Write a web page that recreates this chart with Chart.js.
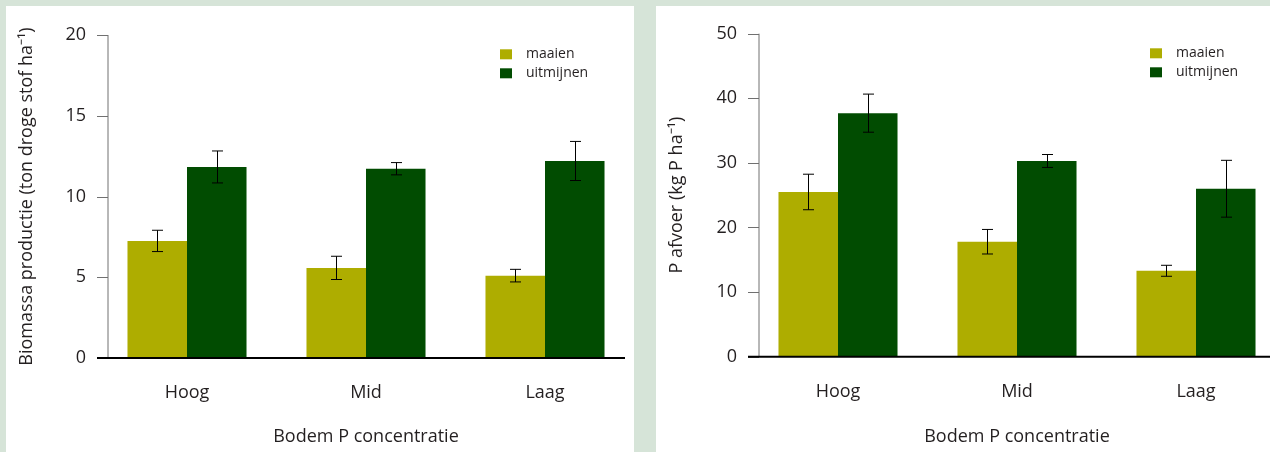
<!DOCTYPE html>
<html><head><meta charset="utf-8">
<script src="https://cdn.jsdelivr.net/npm/chart.js@4/dist/chart.umd.min.js"></script>
<style>
html,body{margin:0;padding:0;background:#d6e4d8;width:1270px;height:452px;overflow:hidden}
.panel{position:absolute;top:6px;height:446px;background:#fff;overflow:hidden}
canvas{position:absolute;left:0;top:0}
</style></head><body>
<div class="panel" style="left:6px;width:628px"><canvas id="c1" width="640" height="446"></canvas></div>
<div class="panel" style="left:656px;width:614px"><canvas id="c2" width="640" height="446"></canvas></div>
<script>
const categories = ['Hoog', 'Mid', 'Laag'];
const seriesNames = ['maaien', 'uitmijnen'];
const seriesColors = ['#aead00', '#014c01'];

const biomassaMaaien = [7.25, 5.58, 5.10];
const biomassaMaaienErr = [0.66, 0.72, 0.39];
const biomassaUitmijnen = [11.83, 11.72, 12.20];
const biomassaUitmijnenErr = [0.99, 0.38, 1.21];
const biomassaTicks = [0, 5, 10, 15, 20];

const pAfvoerMaaien = [25.5, 17.8, 13.3];
const pAfvoerMaaienErr = [2.75, 1.9, 0.85];
const pAfvoerUitmijnen = [37.7, 30.3, 26.0];
const pAfvoerUitmijnenErr = [2.95, 1.0, 4.4];
const pAfvoerTicks = [0, 10, 20, 30, 40, 50];

const xTitle = 'Bodem P concentratie';
const yTitleBiomassa = 'Biomassa productie (ton droge stof ha\u207B\u00B9)';
const yTitlePAfvoer = 'P afvoer (kg P ha\u207B\u00B9)';

Chart.defaults.font.family = "'Open Sans', sans-serif";
Chart.defaults.color = '#231f20';

const rPlugin = {
  id: 'rStyle',
  beforeDatasetsDraw(chart, args, o) {
    const ctx = chart.ctx, ca = chart.chartArea, y = chart.scales.y;
    const ax = ca.left + 10.5;
    ctx.save();
    ctx.strokeStyle = '#707070';
    ctx.lineWidth = 1;
    ctx.beginPath();
    ctx.moveTo(ax, y.getPixelForValue(y.max));
    ctx.lineTo(ax, y.getPixelForValue(0));
    y.ticks.forEach(t => {
      const py = Math.round(y.getPixelForValue(t.value)) + 0.5;
      ctx.moveTo(ca.left - 0.5, py);
      ctx.lineTo(ax, py);
    });
    ctx.stroke();
    ctx.restore();
  },
  afterDatasetsDraw(chart, args, o) {
    const ctx = chart.ctx, ca = chart.chartArea, y = chart.scales.y;
    ctx.save();
    // error bars
    ctx.strokeStyle = '#000';
    ctx.lineWidth = 1;
    chart.data.datasets.forEach((ds, i) => {
      const meta = chart.getDatasetMeta(i);
      meta.data.forEach((el, j) => {
        const v = ds.data[j], e = ds.errors[j];
        const x = Math.round(el.x) + 0.5;
        const yt = y.getPixelForValue(v + e), yb = y.getPixelForValue(v - e);
        ctx.beginPath();
        ctx.moveTo(x, yt); ctx.lineTo(x, yb);
        ctx.moveTo(x - 5.5, yt); ctx.lineTo(x + 5.5, yt);
        ctx.moveTo(x - 5.5, yb); ctx.lineTo(x + 5.5, yb);
        ctx.stroke();
      });
    });
    // x axis line
    const y0 = y.getPixelForValue(0);
    ctx.strokeStyle = '#000';
    ctx.lineWidth = 2;
    ctx.beginPath();
    ctx.moveTo(ca.left - 0.5, y0);
    ctx.lineTo(o.xLineEnd, y0);
    ctx.stroke();
    // legend
    ctx.font = "14px 'Open Sans', sans-serif";
    ctx.textBaseline = 'middle';
    ctx.textAlign = 'left';
    chart.data.datasets.forEach((ds, i) => {
      const ly = o.legendY + i * 19;
      ctx.fillStyle = ds.backgroundColor;
      ctx.fillRect(o.legendX, ly, 12, 10);
      ctx.fillStyle = '#231f20';
      ctx.fillText(ds.label, o.legendX + 26, ly + 5);
    });
    ctx.restore();
  }
};

function makeChart(id, vals1, err1, vals2, err2, ticks, yTitle, geo) {
  return new Chart(document.getElementById(id), {
    type: 'bar',
    data: {
      labels: categories,
      datasets: [
        { label: seriesNames[0], data: vals1, errors: err1, backgroundColor: seriesColors[0] },
        { label: seriesNames[1], data: vals2, errors: err2, backgroundColor: seriesColors[1] }
      ]
    },
    options: {
      responsive: false,
      animation: false,
      layout: { padding: { top: geo.top, right: 640 - geo.right, left: 0, bottom: 0 } },
      datasets: { bar: { categoryPercentage: 0.665, barPercentage: 1.0, borderWidth: 0 } },
      plugins: {
        legend: { display: false },
        tooltip: { enabled: false },
        rStyle: { xLineEnd: geo.xLineEnd, legendX: 494, legendY: geo.legendY }
      },
      scales: {
        x: {
          type: 'category',
          offset: true,
          grid: { display: false, drawTicks: false },
          border: { display: false },
          ticks: { padding: 24, font: { size: 18 }, color: '#231f20' },
          title: { display: true, text: xTitle, font: { size: 18 }, color: '#231f20', padding: { top: 0, bottom: 4 } },
          afterFit: s => { s.height = 446 - geo.bottom; }
        },
        y: {
          min: 0,
          max: ticks[ticks.length - 1],
          grid: { display: false, drawTicks: false },
          border: { display: false },
          afterBuildTicks: s => { s.ticks = ticks.map(v => ({ value: v })); },
          ticks: { padding: 11.5, font: { size: 18 }, color: '#231f20' },
          title: { display: true, text: yTitle, font: { size: 18 }, color: '#231f20', padding: { top: 10, bottom: 0 } },
          afterFit: s => { s.width = geo.left; }
        }
      }
    },
    plugins: [rPlugin]
  });
}

makeChart('c1', biomassaMaaien, biomassaMaaienErr, biomassaUitmijnen, biomassaUitmijnenErr,
  biomassaTicks, yTitleBiomassa,
  { left: 91.5, right: 628.5, top: 29, bottom: 352, xLineEnd: 619, legendY: 43.3 });
makeChart('c2', pAfvoerMaaien, pAfvoerMaaienErr, pAfvoerUitmijnen, pAfvoerUitmijnenErr,
  pAfvoerTicks, yTitlePAfvoer,
  { left: 92.5, right: 629.5, top: 27.7, bottom: 350.7, xLineEnd: 640, legendY: 42.3 });
</script>
</body></html>
